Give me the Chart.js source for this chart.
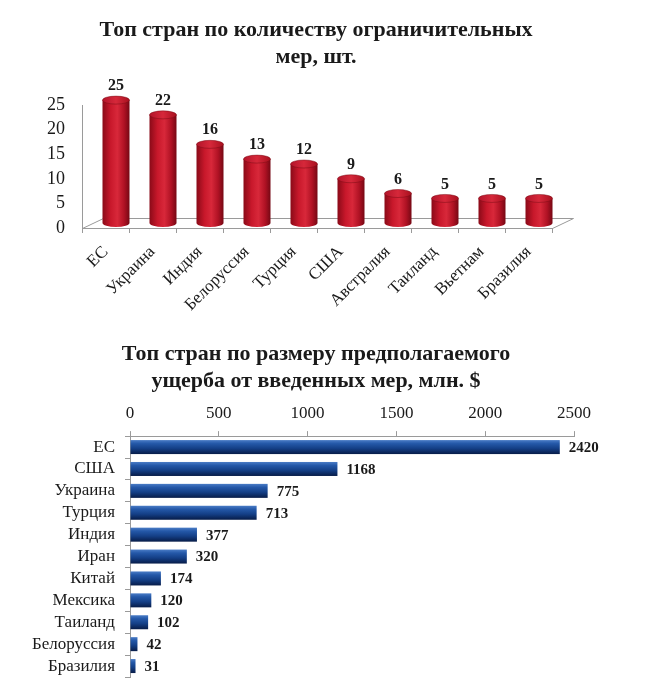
<!DOCTYPE html>
<html><head><meta charset="utf-8">
<script src="https://cdn.jsdelivr.net/npm/chart.js@4/dist/chart.umd.min.js"></script>
<style>
html,body{margin:0;padding:0;background:#fff;}
#w1{position:absolute;left:0;top:0;width:654px;height:330px;}
#w2{position:absolute;left:0;top:330px;width:654px;height:370px;}
</style></head><body>
<div id="w1"><canvas id="c1"></canvas></div>
<div id="w2"><canvas id="c2"></canvas></div>
<script>
// ---- data ----
const measureCountries = ['ЕС','Украина','Индия','Белоруссия','Турция','США','Австралия','Таиланд','Вьетнам','Бразилия'];
const measureCounts = [25,22,16,13,12,9,6,5,5,5];
const measureTicks = [0,5,10,15,20,25];
const damageCountries = ['ЕС','США','Украина','Турция','Индия','Иран','Китай','Мексика','Таиланд','Белоруссия','Бразилия'];
const damageValues = [2420,1168,775,713,377,320,174,120,102,42,31];
const damageTicks = [0,500,1000,1500,2000,2500];
const title1 = ['Топ стран по количеству ограничительных','мер, шт.'];
const title2 = ['Топ стран по размеру предполагаемого','ущерба от введенных мер, млн. $'];

// ---- styles ----
const SERIF = '"Liberation Serif","Times New Roman",serif';
const AXIS = '#9a9a9a';
const TXT = '#1a1a1a';
const DX = 21, DY = 10;

const cylinderPlugin = {
  id: 'cyl',
  beforeDatasetsDraw(chart) {
    const {ctx, chartArea: a} = chart;
    ctx.save();
    ctx.strokeStyle = AXIS; ctx.lineWidth = 1;
    ctx.beginPath();
    ctx.moveTo(a.left + 0.5, a.bottom + 0.5);
    ctx.lineTo(a.left + DX + 0.5, a.bottom - DY + 0.5);
    ctx.lineTo(a.right + DX + 0.5, a.bottom - DY + 0.5);
    ctx.lineTo(a.right + 0.5, a.bottom + 0.5);
    ctx.stroke();
    ctx.restore();
  },
  afterDatasetsDraw(chart) {
    const ctx = chart.ctx;
    const meta = chart.getDatasetMeta(0);
    const vals = chart.data.datasets[0].data;
    meta.data.forEach((bar, i) => {
      const cx = bar.x + DX / 2, rx = bar.width / 2, ry = 4;
      const top = bar.y - DY / 2, bot = bar.base - DY / 2;
      const l = cx - rx, r = cx + rx;
      ctx.save();
      const g = ctx.createLinearGradient(l, 0, r, 0);
      g.addColorStop(0, '#8a0a18');
      g.addColorStop(0.3, '#c8182b');
      g.addColorStop(0.55, '#d8283a');
      g.addColorStop(0.8, '#b01224');
      g.addColorStop(1, '#760814');
      ctx.fillStyle = g;
      ctx.beginPath();
      ctx.moveTo(l, top);
      ctx.lineTo(l, bot);
      ctx.ellipse(cx, bot, rx, ry, 0, Math.PI, 0, true);
      ctx.lineTo(r, top);
      ctx.closePath();
      ctx.fill();
      const g2 = ctx.createLinearGradient(l, 0, r, 0);
      g2.addColorStop(0, '#b3142a');
      g2.addColorStop(0.5, '#d6283a');
      g2.addColorStop(1, '#a8101f');
      ctx.fillStyle = g2;
      ctx.beginPath();
      ctx.ellipse(cx, top, rx, ry, 0, 0, Math.PI * 2);
      ctx.fill();
      ctx.strokeStyle = 'rgba(120,10,20,0.6)';
      ctx.lineWidth = 0.8;
      ctx.stroke();
      ctx.fillStyle = TXT;
      ctx.font = 'bold 16px ' + SERIF;
      ctx.textAlign = 'center';
      ctx.textBaseline = 'bottom';
      ctx.fillText(String(vals[i]), cx, top - ry - 2);
      ctx.restore();
    });
  }
};

const hbarPlugin = {
  id: 'hbar',
  afterDatasetsDraw(chart) {
    const ctx = chart.ctx;
    const meta = chart.getDatasetMeta(0);
    const vals = chart.data.datasets[0].data;
    meta.data.forEach((bar, i) => {
      const h = bar.height, t = bar.y - h / 2;
      const l = bar.base, r = bar.x;
      ctx.save();
      const g = ctx.createLinearGradient(0, t, 0, t + h);
      g.addColorStop(0, '#4a7cc6');
      g.addColorStop(0.25, '#2458a8');
      g.addColorStop(0.6, '#143f86');
      g.addColorStop(1, '#071c48');
      ctx.fillStyle = g;
      ctx.fillRect(l, t, r - l, h);
      ctx.fillStyle = TXT;
      ctx.font = 'bold 15px ' + SERIF;
      ctx.textAlign = 'left';
      ctx.textBaseline = 'middle';
      ctx.fillText(String(vals[i]), r + 9, bar.y + 1);
      ctx.restore();
    });
  }
};

Chart.defaults.font.family = SERIF;
Chart.defaults.color = TXT;

new Chart(document.getElementById('c1'), {
  type: 'bar',
  data: {
    labels: measureCountries,
    datasets: [{ data: measureCounts, backgroundColor: 'rgba(0,0,0,0)', barThickness: 27 }]
  },
  options: {
    responsive: true, maintainAspectRatio: false, animation: false,
    layout: { padding: { left: 0, right: 22, top: 0, bottom: 0 } },
    plugins: {
      legend: { display: false }, tooltip: { enabled: false },
      title: { display: true, text: title1, color: TXT,
        font: { family: SERIF, size: 22, weight: 'bold', lineHeight: 1.23 },
        padding: { top: 17, bottom: 34 } }
    },
    scales: {
      x: {
        grid: { offset: true, drawOnChartArea: false, drawTicks: true, tickLength: 5, color: AXIS },
        border: { color: AXIS },
        ticks: { maxRotation: 45, minRotation: 45, autoSkip: false, font: { family: SERIF, size: 17 }, color: TXT, padding: 9 },
        afterFit(s) { s.height = 102; }
      },
      y: {
        min: 0, max: 25,
        afterBuildTicks(s) { s.ticks = measureTicks.map(v => ({ value: v })); },
        grid: { display: false },
        border: { color: AXIS },
        ticks: { font: { family: SERIF, size: 18 }, color: TXT, padding: 9, autoSkip: false },
        afterFit(s) { s.width = 82; }
      },
      yR: {
        position: 'right', display: true,
        grid: { display: false }, border: { display: false }, ticks: { display: false },
        afterFit(s) { s.width = 80; }
      }
    }
  },
  plugins: [cylinderPlugin]
});

new Chart(document.getElementById('c2'), {
  type: 'bar',
  data: {
    labels: damageCountries,
    datasets: [{ data: damageValues, backgroundColor: 'rgba(0,0,0,0)', barThickness: 14 }]
  },
  options: {
    indexAxis: 'y',
    responsive: true, maintainAspectRatio: false, animation: false,
    layout: { padding: { left: 0, right: 22, top: 0, bottom: 23 } },
    plugins: {
      legend: { display: false }, tooltip: { enabled: false },
      title: { display: true, text: title2, color: TXT,
        font: { family: SERIF, size: 22, weight: 'bold', lineHeight: 1.23 },
        padding: { top: 11, bottom: 0 } }
    },
    scales: {
      x: {
        position: 'top', min: 0, max: 2500,
        afterBuildTicks(s) { s.ticks = damageTicks.map(v => ({ value: v })); },
        grid: { drawOnChartArea: false, drawTicks: true, tickLength: 5, color: AXIS },
        border: { color: AXIS },
        ticks: { font: { family: SERIF, size: 17 }, color: TXT, padding: 7, autoSkip: false, callback: (v) => String(v) },
        afterFit(s) { s.height = 41; }
      },
      y: {
        grid: { offset: true, drawOnChartArea: false, drawTicks: true, tickLength: 5, color: AXIS },
        border: { color: AXIS },
        ticks: { font: { family: SERIF, size: 17 }, color: TXT, padding: 10, autoSkip: false },
        afterFit(s) { s.width = 130; }
      },
      yR: {
        type: 'linear', axis: 'y', position: 'right', display: true,
        grid: { display: false }, border: { display: false }, ticks: { display: false },
        afterFit(s) { s.width = 58; }
      }
    }
  },
  plugins: [hbarPlugin]
});
</script>
</body></html>
